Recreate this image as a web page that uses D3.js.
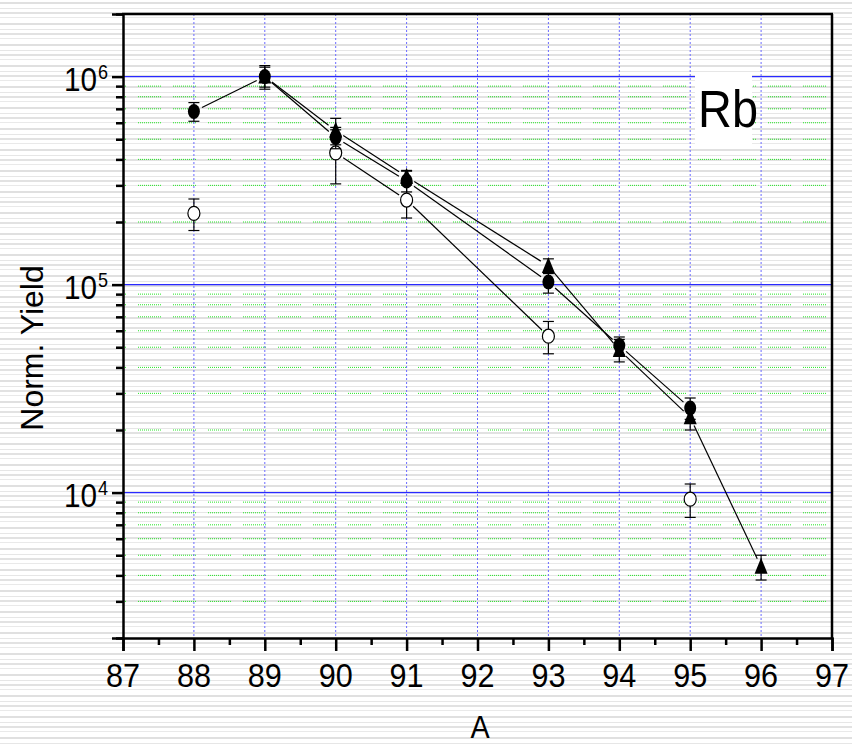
<!DOCTYPE html>
<html>
<head>
<meta charset="utf-8">
<script src="https://cdn.jsdelivr.net/npm/d3@7"></script>
<style>
  body { margin: 0; background: #fff; }
  svg { display: block; font-family: "Liberation Sans", Arial, sans-serif; }
</style>
</head>
<body>
<svg id="chart" width="852" height="745"></svg>
<script>
// mass numbers and yields (null = no point)
const massNumbers = [88, 89, 90, 91, 93, 94, 95, 96];
const filledCircle = [6.8e5, 1.0e6, 5.1e5, 3.15e5, 1.03e5, 5.1e4, 2.55e4, null];
const filledCircleErr = [7e4, 1.3e5, 6e4, 3.6e4, 1.2e4, 5e3, 3e3, null];
const filledTriangle = [null, 1.0e6, 5.5e5, 3.3e5, 1.23e5, 4.85e4, 2.3e4, 4.4e3];
const filledTriangleErr = [null, 1.1e5, 8e4, 2.4e4, 1.0e4, 6e3, 3e3, 6e2];
const openCircle = [2.2e5, null, 4.3e5, 2.55e5, 5.65e4, null, 9.3e3, null];
const openCircleErr = [3.8e4, null, 1.25e5, 4.6e4, 1.0e4, null, 1.7e3, null];

const xTicks = [87, 88, 89, 90, 91, 92, 93, 94, 95, 96, 97];
const yMajor = [1e4, 1e5, 1e6];
const yExp = [4, 5, 6];
const element = 'Rb';

const mLeft = 123, mRight = 832, mTop = 14, mBottom = 638;
const svg = d3.select('#chart');

// striped scan background
const defs = svg.append('defs');
const pat = defs.append('pattern')
  .attr('id', 'stripes')
  .attr('patternUnits', 'userSpaceOnUse')
  .attr('width', 20).attr('height', 21);
[[2, 2, '#e0e0e0'], [8, 1, '#e6e6e6'], [12, 2, '#e2e2e2'], [17, 1, '#e9e9e9']].forEach(s => {
  pat.append('rect').attr('x', 0).attr('y', s[0]).attr('width', 20).attr('height', s[1]).attr('fill', s[2]);
});
svg.append('rect').attr('width', 852).attr('height', 745).attr('fill', 'url(#stripes)');

const x = d3.scaleLinear().domain([87, 97]).range([mLeft, mRight]);
const y = d3.scaleLog().domain([2e3, 2e6]).range([mBottom, mTop]);

// minor values 2..9 x decade inside the domain
const yMinor = [];
for (let e = 3; e <= 6; e++) {
  for (let m = 2; m <= 9; m++) {
    const v = m * Math.pow(10, e);
    if (v >= 2e3 && v <= 2e6) yMinor.push(v);
  }
}

// green dotted minor grid, broken into short runs
const dash = [];
for (let i = 0; i < 12; i++) dash.push(1, 1);
dash[dash.length - 1] = 12;
svg.append('g').selectAll('line')
  .data(yMinor.filter(v => v > 2e3 && v < 2e6))
  .join('line')
  .attr('x1', mLeft).attr('x2', mRight)
  .attr('y1', d => y(d)).attr('y2', d => y(d))
  .attr('stroke', '#22e622').attr('stroke-width', 1)
  .attr('stroke-dasharray', dash.join(','))
  .attr('stroke-dashoffset', 20);

// blue major grid
svg.append('g').selectAll('line')
  .data(yMajor)
  .join('line')
  .attr('x1', mLeft).attr('x2', mRight)
  .attr('y1', d => y(d)).attr('y2', d => y(d))
  .attr('stroke', '#2a2aff').attr('stroke-width', 1.2);

// vertical dotted grid
svg.append('g').selectAll('line')
  .data(xTicks.slice(1, -1))
  .join('line')
  .attr('x1', d => x(d)).attr('x2', d => x(d))
  .attr('y1', mTop).attr('y2', mBottom)
  .attr('stroke', '#6a6aff').attr('stroke-width', 1)
  .attr('stroke-dasharray', '2,2');

// label box
svg.append('rect')
  .attr('x', 695).attr('y', 73).attr('width', 57).attr('height', 74)
  .attr('fill', '#fff');
svg.append('text')
  .attr('transform', 'translate(728,127) scale(0.92,1)')
  .attr('text-anchor', 'middle')
  .attr('font-size', 51)
  .text(element);

// axes
const xAxis = d3.axisBottom(x).tickValues(xTicks).tickSize(13).tickFormat('');
const gx = svg.append('g').attr('transform', `translate(0,${mBottom})`).call(xAxis);
gx.select('.domain').attr('stroke-width', 2.5);
gx.selectAll('.tick line').attr('stroke-width', 2.5);
const xMinorAxis = d3.axisBottom(x).tickValues(xTicks.slice(0, -1).map(d => d + 0.5)).tickSize(7).tickFormat('');
const gxm = svg.append('g').attr('transform', `translate(0,${mBottom})`).call(xMinorAxis);
gxm.select('.domain').remove();
gxm.selectAll('.tick line').attr('stroke-width', 2.5);

svg.append('g').selectAll('text')
  .data(xTicks)
  .join('text')
  .attr('transform', d => `translate(${x(d)},687) scale(0.9,1)`)
  .attr('text-anchor', 'middle')
  .attr('font-size', 34)
  .text(d => d);

const yAxis = d3.axisLeft(y).tickValues(yMajor).tickSize(11).tickFormat('');
const gy = svg.append('g').attr('transform', `translate(${mLeft},0)`).call(yAxis);
gy.select('.domain').attr('stroke-width', 2.5);
gy.selectAll('.tick line').attr('stroke-width', 2.5);
const yMinorAxis = d3.axisLeft(y).tickValues(yMinor).tickSize(7).tickFormat('');
const gym = svg.append('g').attr('transform', `translate(${mLeft},0)`).call(yMinorAxis);
gym.select('.domain').remove();
gym.selectAll('.tick line').attr('stroke-width', 2.5);

const yLab = svg.append('g').selectAll('g')
  .data(yMajor)
  .join('g');
yLab.append('text')
  .attr('transform', d => `translate(97,${y(d) + 14}) scale(0.9,1)`)
  .attr('text-anchor', 'end')
  .attr('font-size', 33)
  .text('10');
yLab.append('text')
  .attr('transform', d => `translate(98,${y(d) + 2}) scale(0.9,1)`)
  .attr('font-size', 20)
  .text((d, i) => yExp[i]);

// box top and right
svg.append('line').attr('x1', mLeft - 1).attr('x2', mRight + 1).attr('y1', mTop).attr('y2', mTop)
  .attr('stroke', '#000').attr('stroke-width', 2.5);
svg.append('line').attr('x1', mRight).attr('x2', mRight).attr('y1', mTop).attr('y2', mBottom)
  .attr('stroke', '#000').attr('stroke-width', 2.5);

// axis titles
svg.append('text')
  .attr('transform', 'translate(43,348) rotate(-90)')
  .attr('text-anchor', 'middle')
  .attr('font-size', 32)
  .text('Norm. Yield');
svg.append('text')
  .attr('transform', 'translate(480,738) scale(0.9,1)')
  .attr('text-anchor', 'middle')
  .attr('font-size', 32)
  .text('A');

// series
const series = [
  { vals: openCircle, err: openCircleErr, shape: 'open' },
  { vals: filledTriangle, err: filledTriangleErr, shape: 'triangle' },
  { vals: filledCircle, err: filledCircleErr, shape: 'circle' }
];

const plot = svg.append('g');

series.forEach(s => {
  const pts = massNumbers.map((m, i) => ({ m, v: s.vals[i], e: s.err[i] }));
  const ok = pts.filter(p => p.v != null);

  // error bars
  const eb = plot.append('g').attr('stroke', '#000').attr('stroke-width', 1.2);
  ok.forEach(p => {
    const cx = x(p.m);
    const y1 = y(p.v + p.e), y2 = y(p.v - p.e);
    eb.append('line').attr('x1', cx).attr('x2', cx).attr('y1', y1).attr('y2', y2);
    eb.append('line').attr('x1', cx - 5.5).attr('x2', cx + 5.5).attr('y1', y1).attr('y2', y1);
    eb.append('line').attr('x1', cx - 5.5).attr('x2', cx + 5.5).attr('y1', y2).attr('y2', y2);
  });

  // connecting segments, stopped short of the markers
  const gap = 9;
  for (let i = 0; i < pts.length - 1; i++) {
    const a = pts[i], b = pts[i + 1];
    if (a.v == null || b.v == null) continue;
    const ax = x(a.m), ay = y(a.v), bx = x(b.m), by = y(b.v);
    const len = Math.hypot(bx - ax, by - ay);
    const ux = (bx - ax) / len, uy = (by - ay) / len;
    plot.append('line')
      .attr('x1', ax + ux * gap).attr('y1', ay + uy * gap)
      .attr('x2', bx - ux * gap).attr('y2', by - uy * gap)
      .attr('stroke', '#000').attr('stroke-width', 1.2);
  }

  // markers
  const mk = plot.append('g');
  ok.forEach(p => {
    const cx = x(p.m), cy = y(p.v);
    if (s.shape === 'triangle') {
      mk.append('path')
        .attr('d', `M${cx},${cy - 9}L${cx + 6.5},${cy + 7}L${cx - 6.5},${cy + 7}Z`)
        .attr('fill', '#000');
    } else if (s.shape === 'circle') {
      mk.append('ellipse').attr('cx', cx).attr('cy', cy).attr('rx', 6).attr('ry', 7.5).attr('fill', '#000');
    } else {
      mk.append('ellipse').attr('cx', cx).attr('cy', cy).attr('rx', 6).attr('ry', 7)
        .attr('fill', '#fff').attr('stroke', '#000').attr('stroke-width', 1.2);
    }
  });
});
</script>
</body>
</html>
